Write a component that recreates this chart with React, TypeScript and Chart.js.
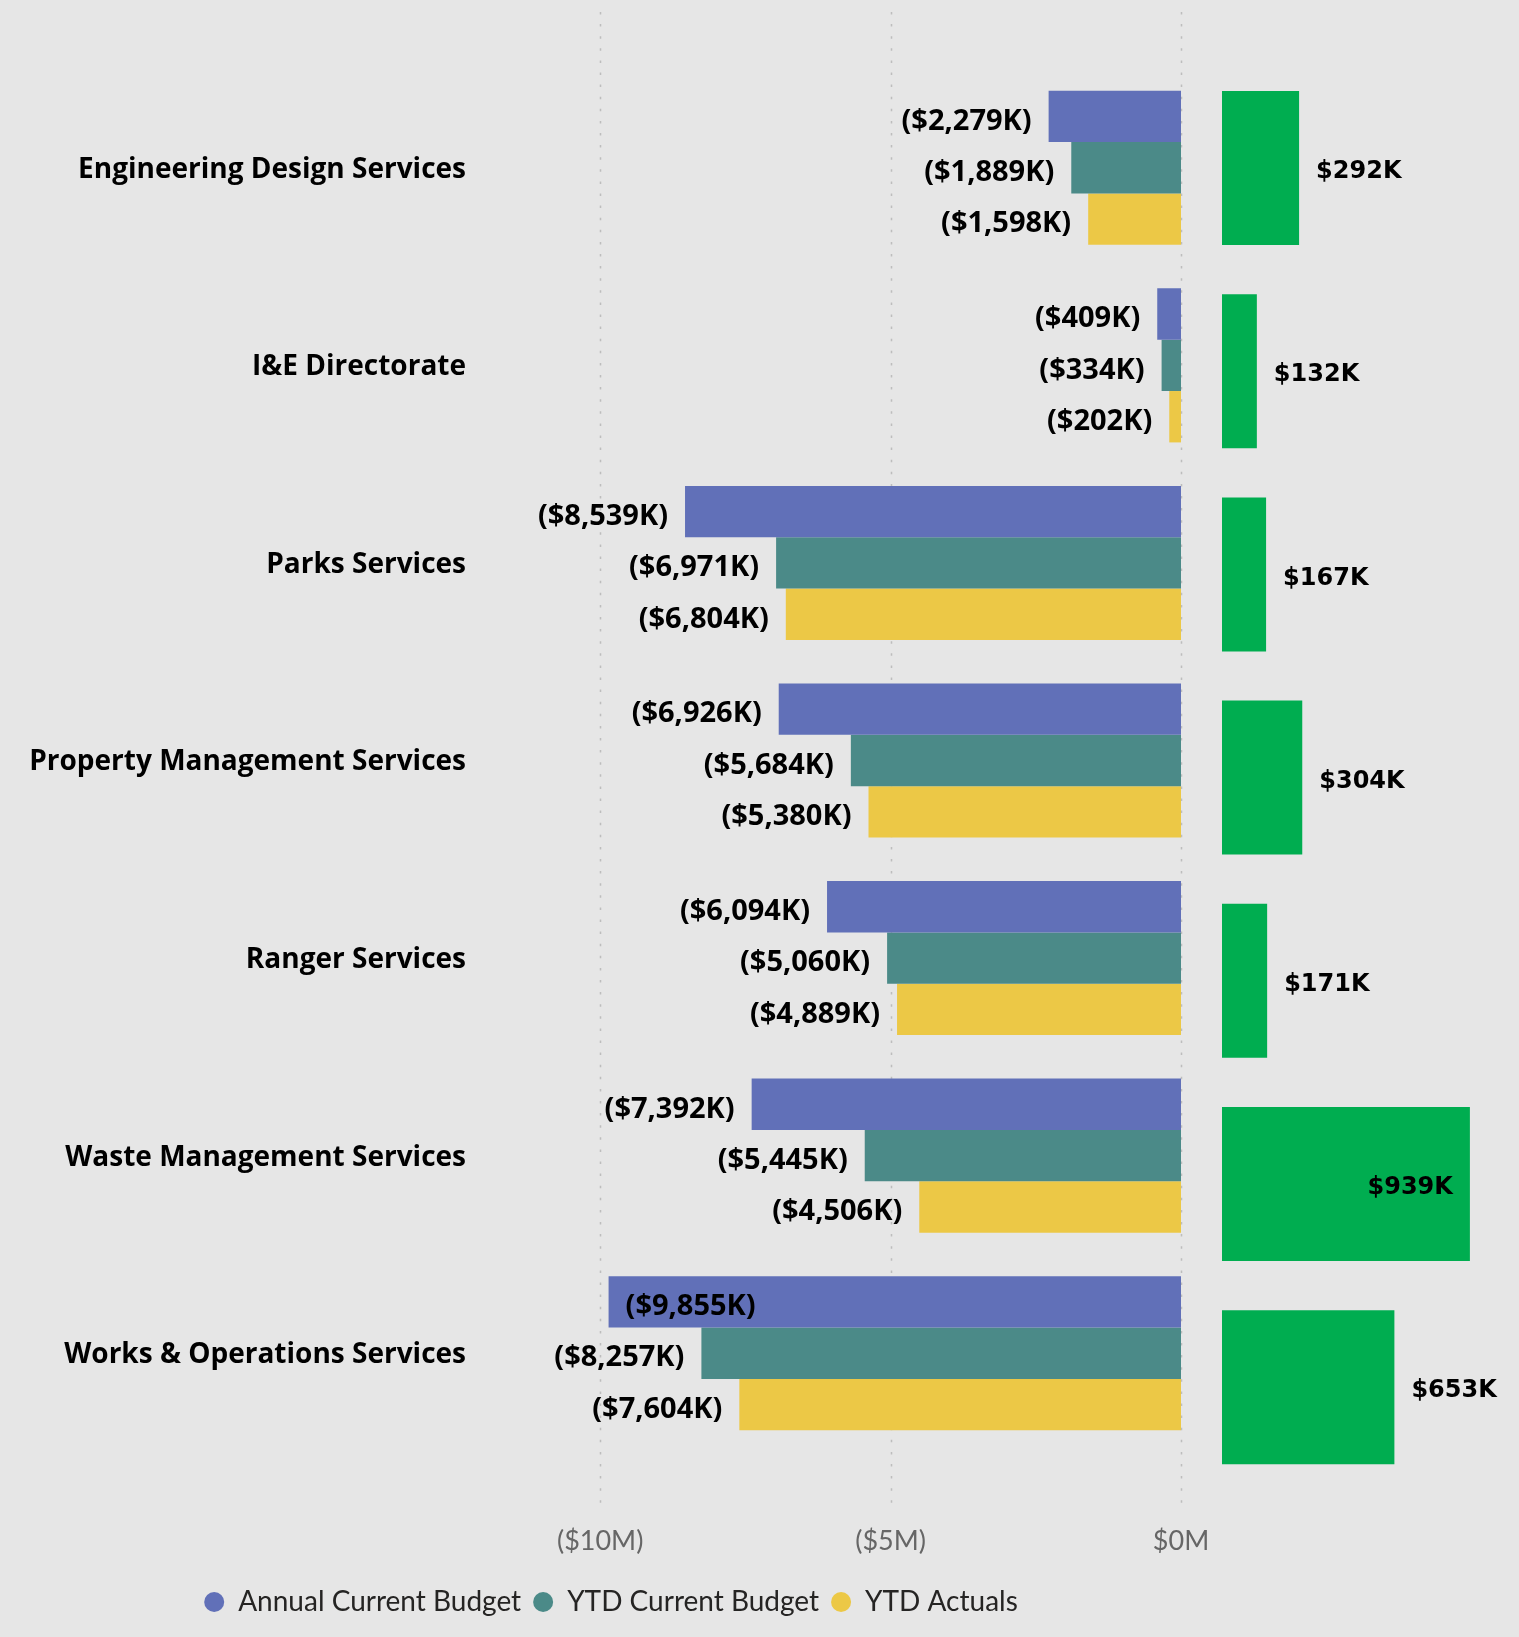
import React, { useEffect, useRef } from 'react';
import { Chart, registerables } from 'chart.js';

Chart.register(...registerables);

// ---------- data (values in $K) ----------
const categories = [
  'Engineering Design Services',
  'I&E Directorate',
  'Parks Services',
  'Property Management Services',
  'Ranger Services',
  'Waste Management Services',
  'Works & Operations Services',
];
const seriesNames = ['Annual Current Budget', 'YTD Current Budget', 'YTD Actuals'];
const annualCurrentBudget = [-2279, -409, -8539, -6926, -6094, -7392, -9855];
const ytdCurrentBudget = [-1889, -334, -6971, -5684, -5060, -5445, -8257];
const ytdActuals = [-1598, -202, -6804, -5380, -4889, -4506, -7604];
const variance = [292, 132, 167, 304, 171, 939, 653];
const tickValues = [-10000, -5000, 0];
const tickLabels = ['($10M)', '($5M)', '$0M'];

// ---------- styles ----------
const BG = '#E6E6E6';
const COLORS = ['#6170B8', '#4B8A88', '#ECC846'];
const GREEN = '#00AD50';
const LABEL_FONT = 'bold 29px "Open Sans", sans-serif';
const GREEN_LABEL_FONT = 'bold 24px "DejaVu Sans", sans-serif';
const GAP = 17;

const fmt = (v: number) => {
  const s = Math.abs(v).toLocaleString('en-US');
  return v < 0 ? `($${s}K)` : `$${s}K`;
};

const makeLabelPlugin = (font: string, dy: number) => ({
  id: 'valueLabels',
  afterDatasetsDraw(chart: any) {
    const ctx = chart.ctx;
    const area = chart.chartArea;
    ctx.save();
    ctx.font = font;
    ctx.fillStyle = '#000';
    ctx.textBaseline = 'middle';
    chart.data.datasets.forEach((ds: any, di: number) => {
      const meta = chart.getDatasetMeta(di);
      meta.data.forEach((el: any, i: number) => {
        const v = ds.data[i];
        const text = fmt(v);
        const w = ctx.measureText(text).width;
        const { x, y } = el.getProps(['x', 'y'], true);
        const ty = y + dy;
        if (v < 0) {
          if (x - GAP - w >= area.left) {
            ctx.textAlign = 'right';
            ctx.fillText(text, x - GAP, ty);
          } else {
            ctx.textAlign = 'left';
            ctx.fillText(text, x + GAP, ty);
          }
        } else {
          if (x + GAP + w <= area.right) {
            ctx.textAlign = 'left';
            ctx.fillText(text, x + GAP, ty);
          } else {
            ctx.textAlign = 'right';
            ctx.fillText(text, x - GAP, ty);
          }
        }
      });
    });
    ctx.restore();
  },
});

const dotGridPlugin = {
  id: 'dotGrid',
  beforeDatasetsDraw(chart: any) {
    const ctx = chart.ctx;
    const xs = chart.scales.x;
    const area = chart.chartArea;
    ctx.save();
    ctx.strokeStyle = '#BDBDBD';
    ctx.lineWidth = 1.5;
    ctx.setLineDash([2.5, 9.6]);
    tickValues.forEach((v) => {
      const px = Math.round(xs.getPixelForValue(v)) + 0.5;
      ctx.beginPath();
      ctx.moveTo(px, area.top - 57);
      ctx.lineTo(px, area.bottom + 60);
      ctx.stroke();
    });
    ctx.restore();
  },
};

export default function App() {
  const leftRef = useRef<HTMLCanvasElement>(null);
  const rightRef = useRef<HTMLCanvasElement>(null);

  useEffect(() => {
    document.body.style.margin = '0';
    document.body.style.background = BG;
    const seriesData = [annualCurrentBudget, ytdCurrentBudget, ytdActuals];
    const left = new Chart(leftRef.current as HTMLCanvasElement, {
      type: 'bar',
      data: {
        labels: categories,
        datasets: seriesNames.map((name, k) => ({
          label: name,
          data: seriesData[k],
          backgroundColor: COLORS[k],
          borderWidth: 0,
          categoryPercentage: 0.78,
          barPercentage: 1,
        })),
      },
      options: {
        indexAxis: 'y',
        responsive: false,
        animation: false,
        devicePixelRatio: 1,
        layout: { padding: { top: 69, right: 0, left: 0, bottom: 11 } },
        scales: {
          x: {
            min: -12000,
            max: 0,
            grid: { display: false, drawTicks: false },
            border: { display: false },
            afterBuildTicks: (s: any) => {
              s.ticks = tickValues.map((v) => ({ value: v }));
            },
            afterFit: (s: any) => {
              s.height = 124;
              s.paddingLeft = 0;
              s.paddingRight = 41;
            },
            ticks: {
              callback: (v: any) => tickLabels[tickValues.indexOf(Number(v))],
              font: { family: 'Lato', size: 27 },
              color: '#666666',
              padding: 73,
              maxRotation: 0,
            },
          },
          y: {
            grid: { display: false, drawTicks: false },
            border: { display: false },
            afterFit: (s: any) => {
              s.width = 484;
            },
            ticks: {
              font: { family: 'Open Sans', size: 28, weight: 'bold' },
              color: '#000000',
              padding: 18,
              labelOffset: 2,
            },
          },
        },
        plugins: {
          legend: {
            position: 'bottom',
            labels: {
              usePointStyle: true,
              pointStyle: 'circle',
              boxHeight: 14,
              pointStyleWidth: 20,
              font: { family: 'Lato', size: 28 },
              color: '#252423',
              padding: 12,
            },
          },
          tooltip: { enabled: false },
        },
      },
      plugins: [dotGridPlugin, makeLabelPlugin(LABEL_FONT, 5)],
    } as any);

    const right = new Chart(rightRef.current as HTMLCanvasElement, {
      type: 'bar',
      data: {
        labels: categories,
        datasets: [
          {
            label: 'Variance',
            data: variance,
            backgroundColor: GREEN,
            borderWidth: 0,
            categoryPercentage: 0.758,
            barPercentage: 1,
          },
        ],
      },
      options: {
        indexAxis: 'y',
        responsive: false,
        animation: false,
        devicePixelRatio: 1,
        layout: { padding: { top: 66.4, bottom: 148.2, left: 0, right: 0 } },
        scales: {
          x: { display: false, min: 0, max: 1125 },
          y: { display: false },
        },
        plugins: { legend: { display: false }, tooltip: { enabled: false } },
      },
      plugins: [makeLabelPlugin(GREEN_LABEL_FONT, 4)],
    } as any);

    return () => {
      left.destroy();
      right.destroy();
    };
  }, []);

  return (
    <div
      style={{
        position: 'absolute',
        left: 0,
        top: 0,
        width: 1519,
        height: 1637,
        background: BG,
        overflow: 'hidden',
      }}
    >
      <canvas
        ref={leftRef}
        width={1222}
        height={1637}
        style={{ position: 'absolute', left: 0, top: 0, width: 1222, height: 1637 }}
      />
      <canvas
        ref={rightRef}
        width={297}
        height={1637}
        style={{ position: 'absolute', left: 1222, top: 0, width: 297, height: 1637 }}
      />
    </div>
  );
}
